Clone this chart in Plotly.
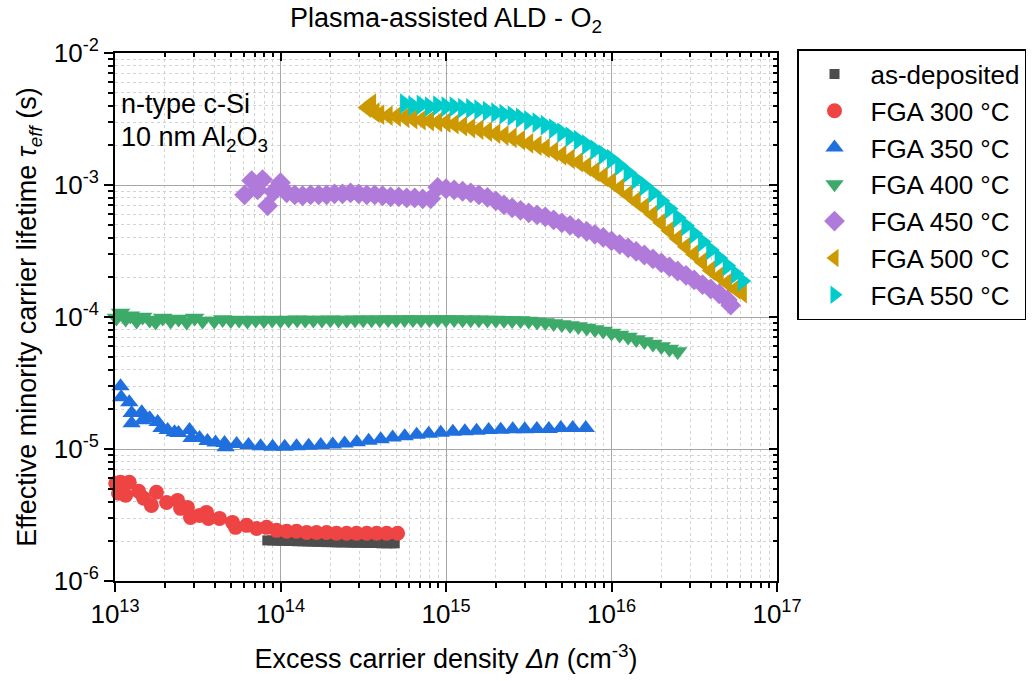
import plotly.graph_objects as go

# ---------------- data ----------------
x_asdep = [8.32e13, 8.91e13, 9.55e13, 1.02e14, 1.10e14, 1.17e14, 1.26e14, 1.35e14, 1.45e14,
           1.55e14, 1.66e14, 1.78e14, 1.91e14, 2.04e14, 2.19e14, 2.34e14, 2.51e14, 2.69e14,
           2.88e14, 3.09e14, 3.31e14, 3.55e14, 3.80e14, 4.07e14, 4.37e14, 4.68e14, 4.90e14]
y_asdep = [2.03e-6, 2.03e-6, 2.02e-6, 2.02e-6, 2.01e-6, 2.01e-6, 2.00e-6, 2.00e-6, 1.99e-6,
           1.99e-6, 1.98e-6, 1.98e-6, 1.97e-6, 1.97e-6, 1.96e-6, 1.96e-6, 1.96e-6, 1.95e-6,
           1.95e-6, 1.95e-6, 1.94e-6, 1.94e-6, 1.94e-6, 1.93e-6, 1.93e-6, 1.93e-6, 1.93e-6]

x_300 = [1.01e13, 1.08e13, 1.22e13, 1.05e13, 1.16e13, 1.39e13, 1.49e13, 1.66e13, 1.78e13,
         2.05e13, 2.39e13, 2.49e13, 2.74e13, 2.86e13, 3.24e13, 3.57e13, 3.67e13, 4.28e13,
         5.13e13, 5.35e13, 6.24e13, 7.17e13, 8.24e13, 9.46e13, 1.09e14, 1.25e14, 1.44e14,
         1.65e14, 1.90e14, 2.18e14, 2.51e14, 2.88e14, 3.32e14, 3.81e14, 4.38e14, 5.10e14]
y_300 = [5.50e-6, 5.60e-6, 5.60e-6, 4.62e-6, 4.46e-6, 4.78e-6, 4.23e-6, 3.74e-6, 4.70e-6,
         3.94e-6, 4.08e-6, 3.55e-6, 3.61e-6, 3.03e-6, 3.14e-6, 3.31e-6, 2.98e-6, 2.98e-6,
         2.78e-6, 2.55e-6, 2.64e-6, 2.50e-6, 2.55e-6, 2.42e-6, 2.38e-6, 2.38e-6, 2.33e-6,
         2.33e-6, 2.33e-6, 2.30e-6, 2.30e-6, 2.30e-6, 2.30e-6, 2.30e-6, 2.30e-6, 2.30e-6]

x_350 = [9.01e12, 9.14e12, 9.39e12, 1.08e13, 1.09e13, 1.22e13, 1.26e13, 1.26e13, 1.45e13,
         1.47e13, 1.62e13, 1.81e13, 1.91e13, 2.08e13, 2.29e13, 2.42e13, 2.82e13, 2.90e13,
         3.24e13, 3.62e13, 4.05e13, 4.59e13, 4.66e13,
         5.43e13, 6.41e13, 7.58e13, 8.96e13, 1.06e14, 1.25e14, 1.48e14, 1.75e14, 2.07e14,
         2.44e14, 2.89e14, 3.41e14, 4.03e14, 4.76e14, 5.63e14, 6.65e14, 7.86e14, 9.29e14,
         1.10e15, 1.30e15, 1.53e15, 1.81e15, 2.14e15, 2.53e15, 2.99e15, 3.54e15, 4.18e15,
         4.94e15, 5.83e15, 6.99e15]
y_350 = [2.23e-5, 1.90e-5, 2.34e-5, 2.99e-5, 2.47e-5, 2.26e-5, 1.87e-5, 1.57e-5, 1.90e-5,
         1.65e-5, 1.71e-5, 1.60e-5, 1.44e-5, 1.39e-5, 1.34e-5, 1.32e-5, 1.39e-5, 1.21e-5,
         1.21e-5, 1.15e-5, 1.12e-5, 1.11e-5, 1.03e-5,
         1.09e-5, 1.07e-5, 1.05e-5, 1.04e-5, 1.04e-5, 1.05e-5, 1.06e-5, 1.07e-5, 1.08e-5,
         1.10e-5, 1.125e-5, 1.155e-5, 1.185e-5, 1.22e-5, 1.25e-5, 1.28e-5, 1.305e-5, 1.33e-5,
         1.35e-5, 1.36e-5, 1.375e-5, 1.39e-5, 1.40e-5, 1.41e-5, 1.41e-5, 1.42e-5, 1.42e-5,
         1.44e-5, 1.44e-5, 1.44e-5]

x_400 = [9.66e12, 1.02e13, 1.08e13, 1.16e13, 1.24e13, 1.35e13, 1.47e13, 1.62e13, 1.76e13,
         1.94e13, 2.17e13, 2.42e13, 2.71e13, 3.03e13, 3.38e13,
         3.98e13, 4.47e13, 5.01e13, 5.62e13, 6.31e13, 7.08e13, 7.94e13, 8.91e13,
         1.00e14, 1.12e14, 1.26e14, 1.41e14, 1.58e14, 1.78e14, 2.00e14, 2.24e14, 2.51e14, 2.82e14,
         3.16e14, 3.55e14, 3.98e14, 4.47e14, 5.01e14, 5.62e14, 6.31e14, 7.08e14, 7.94e14, 8.91e14,
         1.00e15, 1.12e15, 1.26e15, 1.41e15, 1.58e15, 1.78e15, 2.00e15, 2.24e15, 2.51e15, 2.82e15,
         3.16e15, 3.55e15, 3.98e15, 4.47e15, 5.01e15, 5.62e15, 6.31e15, 7.08e15, 7.94e15, 8.91e15,
         1.00e16, 1.12e16, 1.26e16, 1.41e16, 1.58e16, 1.78e16, 2.00e16, 2.24e16, 2.51e16]
y_400 = [1.07e-4, 9.83e-5, 1.07e-4, 9.66e-5, 1.02e-4, 9.32e-5, 1.00e-4, 9.49e-5, 9.16e-5,
         9.83e-5, 9.32e-5, 9.66e-5, 9.16e-5, 9.83e-5, 9.32e-5,
         9.32e-5, 9.57e-5, 9.40e-5, 9.49e-5, 9.32e-5, 9.49e-5, 9.40e-5, 9.49e-5,
         9.45e-5, 9.49e-5, 9.52e-5, 9.49e-5, 9.47e-5, 9.49e-5, 9.52e-5, 9.49e-5, 9.49e-5, 9.52e-5,
         9.54e-5, 9.52e-5, 9.54e-5, 9.57e-5, 9.54e-5, 9.57e-5, 9.57e-5, 9.54e-5, 9.57e-5, 9.57e-5,
         9.57e-5, 9.57e-5, 9.54e-5, 9.54e-5, 9.52e-5, 9.49e-5, 9.49e-5, 9.45e-5, 9.40e-5, 9.40e-5,
         9.32e-5, 9.16e-5, 9.08e-5, 8.93e-5, 8.77e-5, 8.62e-5, 8.47e-5, 8.25e-5, 8.04e-5, 7.83e-5,
         7.56e-5, 7.30e-5, 7.05e-5, 6.75e-5, 6.52e-5, 6.24e-5, 5.97e-5, 5.72e-5, 5.47e-5]

x_450 = [6.07e13, 6.69e13, 7.27e13, 7.79e13, 8.36e13, 9.08e13, 1.00e14, 1.09e14, 1.22e14,
         1.36e14, 1.52e14, 1.70e14, 1.90e14, 2.12e14, 2.37e14, 2.65e14, 2.97e14, 3.32e14,
         3.71e14, 4.14e14, 4.63e14, 5.18e14, 5.79e14, 6.47e14, 7.23e14, 8.08e14,
         8.91e14, 1.00e15, 1.12e15, 1.26e15, 1.41e15, 1.58e15, 1.78e15, 2.00e15, 2.24e15,
         2.51e15, 2.82e15, 3.16e15, 3.55e15, 3.98e15, 4.47e15, 5.01e15, 5.62e15, 6.31e15,
         7.08e15, 7.94e15, 8.91e15, 1.00e16, 1.12e16, 1.26e16, 1.41e16, 1.58e16, 1.78e16,
         2.00e16, 2.24e16, 2.51e16, 2.82e16, 3.16e16, 3.55e16, 3.98e16, 4.47e16, 5.01e16, 5.25e16]
y_450 = [8.43e-4, 1.08e-3, 9.20e-4, 1.10e-3, 6.96e-4, 8.89e-4, 1.04e-3, 8.73e-4, 8.43e-4,
         8.29e-4, 8.43e-4, 8.43e-4, 8.43e-4, 8.58e-4, 8.58e-4, 8.73e-4, 8.58e-4, 8.43e-4,
         8.43e-4, 8.29e-4, 8.14e-4, 8.14e-4, 8.00e-4, 8.00e-4, 7.86e-4, 7.86e-4,
         9.61e-4, 9.37e-4, 9.20e-4, 8.97e-4, 8.73e-4, 8.43e-4, 8.07e-4, 7.59e-4, 7.08e-4,
         6.72e-4, 6.43e-4, 6.16e-4, 5.94e-4, 5.74e-4, 5.45e-4, 5.17e-4, 4.95e-4, 4.69e-4,
         4.46e-4, 4.23e-4, 4.01e-4, 3.77e-4, 3.55e-4, 3.34e-4, 3.14e-4, 2.95e-4, 2.76e-4,
         2.57e-4, 2.40e-4, 2.23e-4, 2.07e-4, 1.91e-4, 1.76e-4, 1.63e-4, 1.50e-4, 1.35e-4, 1.23e-4]

x_500 = [3.31e14, 3.55e14, 3.72e14, 3.98e14, 4.47e14, 5.01e14,
         5.62e14, 6.31e14, 7.08e14, 7.94e14, 8.91e14,
         1.00e15, 1.12e15, 1.26e15, 1.41e15, 1.58e15, 1.78e15, 2.00e15, 2.24e15, 2.51e15, 2.82e15,
         3.16e15, 3.55e15, 3.98e15, 4.47e15, 5.01e15, 5.62e15, 6.31e15, 7.08e15, 7.94e15, 8.91e15,
         1.00e16, 1.12e16, 1.26e16, 1.41e16, 1.58e16, 1.78e16, 2.00e16, 2.24e16, 2.51e16, 2.82e16,
         3.16e16, 3.55e16, 3.98e16, 4.47e16, 5.01e16, 5.62e16, 6.17e16]
y_500 = [3.86e-3, 4.14e-3, 3.53e-3, 3.41e-3, 3.35e-3, 3.30e-3,
         3.24e-3, 3.15e-3, 3.10e-3, 3.05e-3, 2.99e-3,
         2.97e-3, 2.89e-3, 2.79e-3, 2.70e-3, 2.63e-3, 2.54e-3, 2.45e-3, 2.37e-3, 2.28e-3, 2.19e-3,
         2.07e-3, 1.99e-3, 1.90e-3, 1.79e-3, 1.68e-3, 1.58e-3, 1.49e-3, 1.38e-3, 1.26e-3, 1.155e-3,
         1.05e-3, 9.45e-4, 8.43e-4, 7.53e-4, 6.78e-4, 5.94e-4, 5.17e-4, 4.50e-4, 3.91e-4, 3.40e-4,
         2.98e-4, 2.61e-4, 2.25e-4, 2.03e-4, 1.81e-4, 1.63e-4, 1.52e-4]

x_550 = [5.62e14, 6.31e14, 7.08e14, 7.94e14, 8.91e14,
         1.00e15, 1.12e15, 1.26e15, 1.41e15, 1.58e15, 1.78e15, 2.00e15, 2.24e15, 2.51e15, 2.82e15,
         3.16e15, 3.55e15, 3.98e15, 4.47e15, 5.01e15, 5.62e15, 6.31e15, 7.08e15, 7.94e15, 8.91e15,
         1.00e16, 1.12e16, 1.26e16, 1.41e16, 1.58e16, 1.78e16, 2.00e16, 2.24e16, 2.51e16, 2.82e16,
         3.16e16, 3.55e16, 3.98e16, 4.47e16, 5.01e16, 5.62e16, 6.17e16]
y_550 = [4.14e-3, 3.99e-3, 4.05e-3, 3.93e-3, 4.00e-3,
         3.93e-3, 3.92e-3, 3.82e-3, 3.80e-3, 3.72e-3, 3.63e-3, 3.53e-3, 3.44e-3, 3.35e-3, 3.22e-3,
         3.08e-3, 2.97e-3, 2.84e-3, 2.67e-3, 2.49e-3, 2.32e-3, 2.19e-3, 2.02e-3, 1.85e-3, 1.70e-3,
         1.57e-3, 1.40e-3, 1.24e-3, 1.10e-3, 9.87e-4, 8.73e-4, 7.59e-4, 6.60e-4, 5.64e-4, 4.91e-4,
         4.27e-4, 3.71e-4, 3.22e-4, 2.80e-4, 2.44e-4, 2.12e-4, 1.87e-4]

labels = ["as-deposited", "FGA 300 °C", "FGA 350 °C", "FGA 400 °C",
          "FGA 450 °C", "FGA 500 °C", "FGA 550 °C"]

x_tick_vals = [1e13, 1e14, 1e15, 1e16, 1e17]
x_tick_text = ["10<sup>13</sup>", "10<sup>14</sup>", "10<sup>15</sup>", "10<sup>16</sup>", "10<sup>17</sup>"]
y_tick_vals = [1e-6, 1e-5, 1e-4, 1e-3, 1e-2]
y_tick_text = ["10<sup>-6</sup>", "10<sup>-5</sup>", "10<sup>-4</sup>", "10<sup>-3</sup>", "10<sup>-2</sup>"]

# ---------------- styles ----------------
FONT = "Liberation Sans, Arial, sans-serif"
styles = [
    ("square", "#4d4d4d", 10),
    ("circle", "#ef4444", 15),
    ("triangle-up", "#1f6fdf", 16),
    ("triangle-down", "#3daa6a", 17),
    ("diamond", "#b07adb", 16),
    ("triangle-left", "#cc9900", 18),
    ("triangle-right", "#00cccc", 18),
]
data = [(x_asdep, y_asdep), (x_300, y_300), (x_350, y_350), (x_400, y_400),
        (x_450, y_450), (x_500, y_500), (x_550, y_550)]

minor_x = [m * 10.0 ** e for e in range(13, 17) for m in range(2, 10)]
minor_y = [m * 10.0 ** e for e in range(-6, -2) for m in range(2, 10)]

fig = go.Figure()
for i, ((xs, ys), (sym, col, size)) in enumerate(zip(data, styles)):
    fig.add_trace(go.Scatter(
        x=xs, y=ys, mode="markers", name=labels[i], legendgroup=labels[i],
        marker=dict(symbol=sym, color=col, size=size, line=dict(width=0)),
        cliponaxis=False,
    ))

# helper trace for the top/right axes (inward ticks)
fig.add_trace(go.Scatter(x=[1e15], y=[1e-4], xaxis="x2", yaxis="y2", mode="markers",
                         marker=dict(opacity=0), showlegend=False, hoverinfo="skip"))

grid_major = "#a6a6a6"
grid_minor = "#d2d2d2"

axis_common = dict(type="log", showline=True, linecolor="black", linewidth=2,
                   zeroline=False, tickcolor="black", tickwidth=1.5)

fig.update_layout(
    width=1035, height=681,
    margin=dict(l=115, r=258, t=53, b=100, autoexpand=False),
    plot_bgcolor="white", paper_bgcolor="white",
    font=dict(family=FONT, size=26, color="black"),
    title=dict(text="Plasma-assisted ALD - O<sub>2</sub>", x=(446 / 1035), xanchor="center",
               y=1 - 18 / 681, yanchor="middle", font=dict(size=27)),
    xaxis=dict(**axis_common, range=[13, 17], tickmode="array", tickvals=x_tick_vals,
               ticktext=x_tick_text, ticks="outside", ticklen=9,
               showgrid=True, gridcolor=grid_major, gridwidth=1,
               minor=dict(tickmode="array", tickvals=minor_x, ticks="outside", ticklen=5,
                          tickcolor="black", tickwidth=1.5, showgrid=True,
                          gridcolor=grid_minor, gridwidth=1, griddash="3px,3px"),
               tickfont=dict(size=26),
               title=dict(text="Excess carrier density <i>Δn</i> (cm<sup>-3</sup>)",
                          font=dict(size=27), standoff=21)),
    yaxis=dict(**axis_common, range=[-6, -2], tickmode="array", tickvals=y_tick_vals,
               ticktext=y_tick_text, ticks="outside", ticklen=9,
               showgrid=True, gridcolor=grid_major, gridwidth=1,
               minor=dict(tickmode="array", tickvals=minor_y, ticks="outside", ticklen=5,
                          tickcolor="black", tickwidth=1.5, showgrid=True,
                          gridcolor=grid_minor, gridwidth=1, griddash="3px,3px"),
               tickfont=dict(size=26),
               title=dict(text="Effective minority carrier lifetime <i>τ</i><sub><i>eff</i></sub> (s)",
                          font=dict(size=27), standoff=9)),
    xaxis2=dict(**axis_common, range=[13, 17], overlaying="x", side="top", anchor="y2",
                tickmode="array", tickvals=x_tick_vals, ticks="inside", ticklen=8,
                showticklabels=False, showgrid=False,
                minor=dict(tickmode="array", tickvals=minor_x, ticks="inside", ticklen=4,
                           tickcolor="black", tickwidth=1.5, showgrid=False)),
    yaxis2=dict(**axis_common, range=[-6, -2], overlaying="y", side="right", anchor="x2",
                tickmode="array", tickvals=y_tick_vals, ticks="inside", ticklen=8,
                showticklabels=False, showgrid=False,
                minor=dict(tickmode="array", tickvals=minor_y, ticks="inside", ticklen=4,
                           tickcolor="black", tickwidth=1.5, showgrid=False)),
    legend=dict(x=(797 - 115) / 662, xanchor="left", y=1.0 + 4 / 528, yanchor="top",
                bordercolor="black", borderwidth=1.5, bgcolor="white",
                font=dict(size=26), tracegroupgap=5, itemwidth=62,
                traceorder="normal"),
    annotations=[
        dict(text="n-type c-Si", xref="paper", yref="paper", x=(119 - 115) / 662,
             y=(581 - 104) / 528, xanchor="left", yanchor="middle", showarrow=False,
             font=dict(size=27)),
        dict(text="10 nm Al<sub>2</sub>O<sub>3</sub>", xref="paper", yref="paper",
             x=(119 - 115) / 662, y=(581 - 139) / 528, xanchor="left", yanchor="middle",
             showarrow=False, font=dict(size=27)),
    ],
)

fig.write_html("out.html")
